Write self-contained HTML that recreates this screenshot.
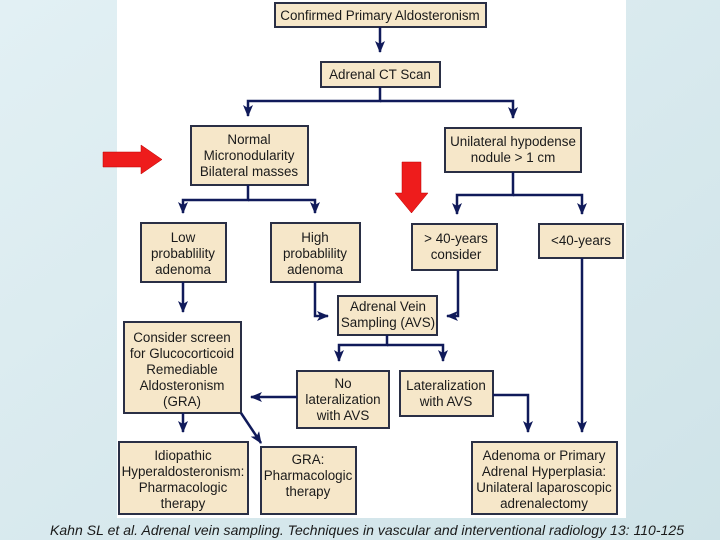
<!DOCTYPE html>
<html><head><meta charset="utf-8"><style>
html,body{margin:0;padding:0;width:720px;height:540px;overflow:hidden;background:#d6e9ee}
svg{display:block}
text{font-family:"Liberation Sans",Arial,sans-serif;font-size:13.4px;fill:#1a1a1a;text-anchor:middle}
</style></head><body>
<svg width="720" height="540" viewBox="0 0 720 540">
<defs>
<linearGradient id="bg" x1="0" y1="0" x2="1" y2="1"><stop offset="0" stop-color="#e2f0f4"/><stop offset="1" stop-color="#cfe3e8"/></linearGradient>
<marker id="a" markerWidth="14" markerHeight="12" refX="11" refY="5" orient="auto" markerUnits="userSpaceOnUse"><path d="M0,0 L12,5 L0,10 L3,5 Z" fill="#101a5a"/></marker>
</defs>
<rect width="720" height="540" fill="url(#bg)"/>
<rect x="117" y="0" width="509" height="518" fill="#ffffff"/>
<g fill="#f6e7c9" stroke="#2a2f45" stroke-width="2">
<rect x="275" y="3" width="211" height="24"/>
<rect x="321" y="62" width="119" height="25"/>
<rect x="191" y="126" width="117" height="59"/>
<rect x="445" y="128" width="136" height="44"/>
<rect x="141" y="223" width="85" height="59"/>
<rect x="271" y="223" width="89" height="59"/>
<rect x="412" y="224" width="85" height="46"/>
<rect x="539" y="224" width="84" height="34"/>
<rect x="338" y="296" width="99" height="39"/>
<rect x="124" y="322" width="117" height="91"/>
<rect x="297" y="371" width="92" height="57"/>
<rect x="400" y="371" width="93" height="45"/>
<rect x="119" y="442" width="129" height="72"/>
<rect x="261" y="447" width="95" height="67"/>
<rect x="472" y="442" width="145" height="72"/>
</g>
<g stroke="#101a5a" stroke-width="2.5" fill="none">
<path d="M380,27 V52" marker-end="url(#a)"/>
<path d="M380,87 V101 H248 V116" marker-end="url(#a)"/>
<path d="M380,101 H513 V118" marker-end="url(#a)"/>
<path d="M248,185 V200 H183 V213" marker-end="url(#a)"/>
<path d="M248,200 H315 V213" marker-end="url(#a)"/>
<path d="M513,172 V195 H457 V214" marker-end="url(#a)"/>
<path d="M513,195 H582 V214" marker-end="url(#a)"/>
<path d="M183,282 V312" marker-end="url(#a)"/>
<path d="M315,282 V316 H328" marker-end="url(#a)"/>
<path d="M458,270 V316 H447" marker-end="url(#a)"/>
<path d="M582,258 V432" marker-end="url(#a)"/>
<path d="M387,335 V345 H339 V361" marker-end="url(#a)"/>
<path d="M387,345 H443 V361" marker-end="url(#a)"/>
<path d="M297,397 H251" marker-end="url(#a)"/>
<path d="M493,395 H528 V432" marker-end="url(#a)"/>
<path d="M183,413 V432" marker-end="url(#a)"/>
<path d="M241,413 L261,443" marker-end="url(#a)"/>
</g>
<path d="M103,152 H141 V145 L162,159.5 L141,174 V167 H103 Z" fill="#ee1c1c" stroke="#b00" stroke-width="0.5"/>
<path d="M402,162 H421 V193 H428 L411.5,213 L395,193 H402 Z" fill="#ee1c1c" stroke="#b00" stroke-width="0.5"/>
<text x="380" y="20">Confirmed Primary Aldosteronism</text>
<text x="380" y="79">Adrenal CT Scan</text>
<text x="249" y="144">Normal</text>
<text x="249" y="160">Micronodularity</text>
<text x="249" y="176">Bilateral masses</text>
<text x="513" y="146">Unilateral hypodense</text>
<text x="513" y="162">nodule &gt; 1 cm</text>
<text x="183" y="242">Low</text>
<text x="183" y="258">probablility</text>
<text x="183" y="274">adenoma</text>
<text x="315" y="242">High</text>
<text x="315" y="258">probablility</text>
<text x="315" y="274">adenoma</text>
<text x="456" y="243">&gt; 40-years</text>
<text x="456" y="259">consider</text>
<text x="581" y="245">&lt;40-years</text>
<text x="388" y="311">Adrenal Vein</text>
<text x="388" y="327">Sampling (AVS)</text>
<text x="182" y="342">Consider screen</text>
<text x="182" y="358">for Glucocorticoid</text>
<text x="182" y="374">Remediable</text>
<text x="182" y="390">Aldosteronism</text>
<text x="182" y="406">(GRA)</text>
<text x="343" y="388">No</text>
<text x="343" y="404">lateralization</text>
<text x="343" y="420">with AVS</text>
<text x="446" y="390">Lateralization</text>
<text x="446" y="406">with AVS</text>
<text x="183" y="460">Idiopathic</text>
<text x="183" y="476">Hyperaldosteronism:</text>
<text x="183" y="492">Pharmacologic</text>
<text x="183" y="508">therapy</text>
<text x="308" y="464">GRA:</text>
<text x="308" y="480">Pharmacologic</text>
<text x="308" y="496">therapy</text>
<text x="544" y="460">Adenoma or Primary</text>
<text x="544" y="476">Adrenal Hyperplasia:</text>
<text x="544" y="492">Unilateral laparoscopic</text>
<text x="544" y="508">adrenalectomy</text>
<text x="367" y="535" textLength="634" style="font-style:italic;font-size:14px">Kahn SL et al. Adrenal vein sampling. Techniques in vascular and interventional radiology 13: 110-125</text>
</svg>
</body></html>
